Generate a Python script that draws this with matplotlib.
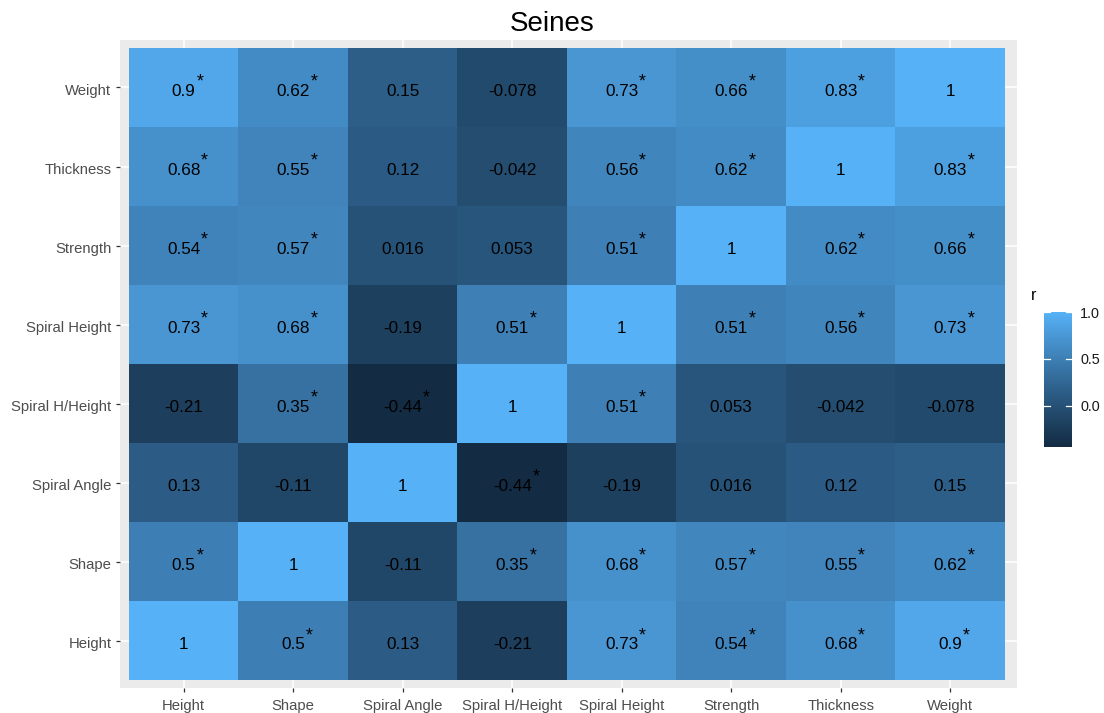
import numpy as np
import matplotlib
matplotlib.use("Agg")
import matplotlib.pyplot as plt
from matplotlib.colors import ListedColormap
from matplotlib.transforms import ScaledTranslation

# Variables, bottom row first on the y axis and left to right on the x axis
variables = ["Height", "Shape", "Spiral Angle", "Spiral H/Height",
             "Spiral Height", "Strength", "Thickness", "Weight"]

# Pearson correlation matrix (row i / column j follow `variables`)
r_values = [
    [1.0,   0.5,   0.13,  -0.21,  0.73,  0.54,  0.68,  0.9],
    [0.5,   1.0,  -0.11,   0.35,  0.68,  0.57,  0.55,  0.62],
    [0.13, -0.11,  1.0,   -0.44, -0.19,  0.016, 0.12,  0.15],
    [-0.21, 0.35, -0.44,   1.0,   0.51,  0.053, -0.042, -0.078],
    [0.73,  0.68, -0.19,   0.51,  1.0,   0.51,  0.56,  0.73],
    [0.54,  0.57,  0.016,  0.053, 0.51,  1.0,   0.62,  0.66],
    [0.68,  0.55,  0.12,  -0.042, 0.56,  0.62,  1.0,   0.83],
    [0.9,   0.62,  0.15,  -0.078, 0.73,  0.66,  0.83,  1.0],
]

# Significance flags (p < 0.05) for each pair
significant = [
    [0, 1, 0, 0, 1, 1, 1, 1],
    [1, 0, 0, 1, 1, 1, 1, 1],
    [0, 0, 0, 1, 0, 0, 0, 0],
    [0, 1, 1, 0, 1, 0, 0, 0],
    [1, 1, 0, 1, 0, 1, 1, 1],
    [1, 1, 0, 0, 1, 0, 1, 1],
    [1, 1, 0, 0, 1, 1, 0, 1],
    [1, 1, 0, 0, 1, 1, 1, 0],
]

legend_ticks = [0.0, 0.5, 1.0]
title = "Seines"

# ---------------------------------------------------------------------------
# Colour scale: two-colour gradient interpolated in CIELAB space
_M = np.array([[0.4124564, 0.3575761, 0.1804375],
               [0.2126729, 0.7151522, 0.0721750],
               [0.0193339, 0.1191920, 0.9503041]])
_WHITE = np.array([0.95047, 1.0, 1.08883])


def _hex_to_rgb(h):
    h = h.lstrip("#")
    return np.array([int(h[i:i + 2], 16) / 255.0 for i in (0, 2, 4)])


def _rgb_to_lab(rgb):
    lin = np.where(rgb <= 0.04045, rgb / 12.92, ((rgb + 0.055) / 1.055) ** 2.4)
    xyz = _M @ lin / _WHITE
    d = 6 / 29
    f = np.where(xyz > d ** 3, np.cbrt(xyz), xyz / (3 * d * d) + 4 / 29)
    return np.array([116 * f[1] - 16, 500 * (f[0] - f[1]), 200 * (f[1] - f[2])])


def _lab_to_rgb(lab):
    L, a, b = lab
    fy = (L + 16) / 116
    fx = fy + a / 500
    fz = fy - b / 200
    d = 6 / 29
    f = np.array([fx, fy, fz])
    xyz = np.where(f > d, f ** 3, 3 * d * d * (f - 4 / 29)) * _WHITE
    lin = np.linalg.solve(_M, xyz)
    lin = np.clip(lin, 0, 1)
    rgb = np.where(lin <= 0.0031308, 12.92 * lin, 1.055 * lin ** (1 / 2.4) - 0.055)
    return np.clip(rgb, 0, 1)


low_lab = _rgb_to_lab(_hex_to_rgb("#132B43"))
high_lab = _rgb_to_lab(_hex_to_rgb("#56B1F7"))
ramp = [_lab_to_rgb(low_lab + t * (high_lab - low_lab)) for t in np.linspace(0, 1, 256)]
cmap = ListedColormap(ramp)

# ---------------------------------------------------------------------------
W, H = 1104, 713
fig = plt.figure(figsize=(W / 100, H / 100), dpi=100)
fig.patch.set_facecolor("white")

font = "Liberation Sans"
plt.rcParams["font.family"] = [font, "DejaVu Sans"]

ax = fig.add_axes([120 / W, (H - 688) / H, (1017 - 120) / W, (688 - 40) / H])
ax.set_facecolor("#EBEBEB")

R = np.array(r_values)
n = len(variables)
vmin, vmax = R.min(), R.max()
edges = np.arange(n + 1) - 0.5
mesh = ax.pcolormesh(edges, edges, R, cmap=cmap, vmin=vmin, vmax=vmax, zorder=2)

ax.set_xlim(-0.582, 7.61)
ax.set_ylim(-0.595, 7.60)
ax.set_xticks(range(n))
ax.set_yticks(range(n))
ax.set_xticklabels(variables)
ax.set_yticklabels(variables)
ax.grid(True, color="white", linewidth=1.1, zorder=0)
ax.set_axisbelow(True)
for s in ax.spines.values():
    s.set_visible(False)
ax.tick_params(axis="both", length=3.2, width=0.9, color="#333333",
               labelcolor="#4D4D4D", labelsize=10.7, pad=3)
ax.tick_params(axis="x", pad=4.5)
shift_down = ScaledTranslation(0, -1.2 / 72, fig.dpi_scale_trans)
for lab in ax.get_yticklabels():
    lab.set_transform(lab.get_transform() + shift_down)

for i in range(n):
    for j in range(n):
        v = R[i, j]
        label = "{:.2g}".format(v)
        t = ax.annotate(label, xy=(j, i), xytext=(0, -2.6), textcoords="offset points",
                        ha="center", va="center", fontsize=12.3,
                        color="black", zorder=3)
        if significant[i][j]:
            ax.annotate("*", xy=(1, 0.5), xycoords=t, xytext=(0.5, 6.5),
                        textcoords="offset points", ha="left", va="center",
                        fontsize=12.8, color="black", zorder=3)

# Colour bar legend
cax = fig.add_axes([1044 / W, (H - 447) / H, 28 / W, (447 - 312) / H])
cb = fig.colorbar(mesh, cax=cax, ticks=legend_ticks)
cb.outline.set_visible(False)
cb.ax.set_yticklabels(["{:.1f}".format(v) for v in legend_ticks])
cb.ax.tick_params(length=0, pad=6, labelsize=10.4, labelcolor="#1A1A1A")
for v in legend_ticks:
    cax.plot([0, 0.2], [v, v], color="white", lw=0.9, transform=cax.get_yaxis_transform())
    cax.plot([0.8, 1.0], [v, v], color="white", lw=0.9, transform=cax.get_yaxis_transform())
fig.text(1031 / W, 1 - 300 / H, "r", ha="left", va="baseline", fontsize=11.5,
         color="black")

fig.text(0.5, 1 - 31 / H, title, ha="center", va="baseline", fontsize=20,
         color="black")

fig.savefig("out.png", dpi=100)
